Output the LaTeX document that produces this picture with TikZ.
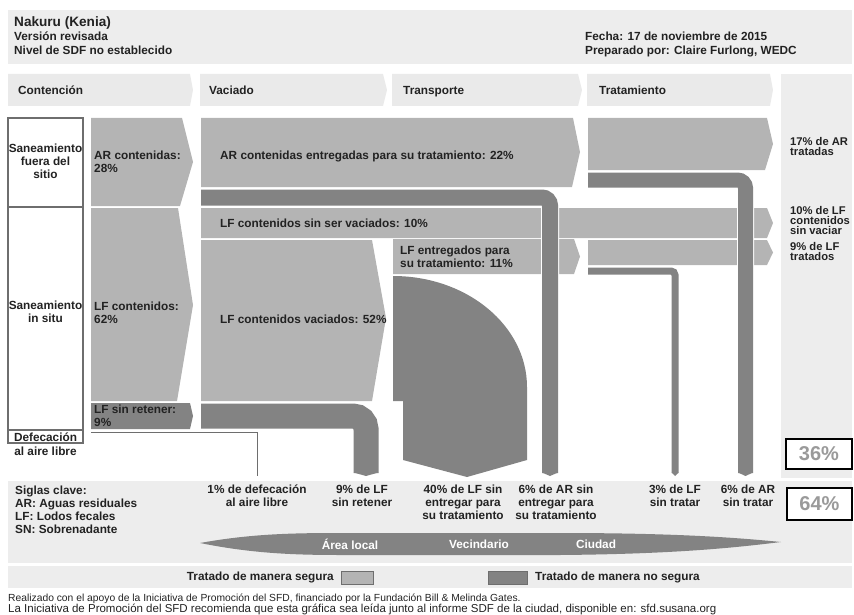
\documentclass[tikz,border=0pt]{standalone}
\usepackage{fontspec}
\setmainfont{Liberation Sans}
\definecolor{safegrey}{HTML}{B4B4B4}
\definecolor{unsafegrey}{HTML}{838383}
\definecolor{panelgrey}{HTML}{EDEDED}
\definecolor{hdrgrey}{HTML}{EAEAEA}
\definecolor{boxgrey}{HTML}{6E6E6E}
\definecolor{txtgrey}{HTML}{222222}
\definecolor{pctgrey}{HTML}{9A9A9A}
\tikzset{
    safe/.style={fill=safegrey},
    unsafe/.style={fill=unsafegrey},
    unsafe flow/.style={draw=white, line width=1pt, double=unsafegrey, double distance=#1},
    odline/.style={draw=boxgrey, line width=1pt},
    sysbox/.style={draw=boxgrey, line width=1.2pt},
    swatch/.style={draw=boxgrey, line width=0.8pt},
    txt/.style={font=\bfseries\fontsize{11.8}{12.8}\selectfont, text=txtgrey, inner sep=0pt, align=left},
    ctxt/.style={txt, align=center},
    rtxt/.style={txt, font=\bfseries\fontsize{11.2}{10}\selectfont},
    citytitle/.style={txt, font=\bfseries\fontsize{13.6}{15}\selectfont},
    lens/.style={txt, text=white},
    pct/.style={draw=black, line width=2pt, fill=white, text=pctgrey, font=\bfseries\fontsize{20}{24}\selectfont, inner sep=0pt},
    foot/.style={font=\fontsize{10.3}{10.8}\selectfont, text=txtgrey, inner sep=0pt, align=left},
}
\begin{document}
\begin{tikzpicture}[x=1pt, y=-1pt]
    \newcommand\posS{8}
    \newcommand\posC{91}
    \newcommand\posV{201}
    \newcommand\posT{393}
    \newcommand\posR{588}
    \newcommand\posE{781}

    \useasboundingbox (0,0) rectangle (854,615);

    % header
    \fill[panelgrey] (\posS,10) rectangle (852,64);
    \node[citytitle, anchor=base west] (city) at (14,26.5) {Nakuru (Kenia)};
    \node[txt, anchor=base west] (version) at (14,40.5) {Versión revisada};
    \node[txt, anchor=base west] (level) at (14,54.5) {Nivel de SDF no establecido};
    \node[txt, anchor=base west] (date) at (585,40.5) {Fecha: 17 de noviembre de 2015};
    \node[txt, anchor=base west] (author) at (585,54.5) {Preparado por: Claire Furlong, WEDC};

    % stages
    \fill[hdrgrey] (\posS,74) -- (190,74) -- (193,90) -- (190,106) -- (\posS,106) -- cycle;
    \fill[hdrgrey] (200,74) -- (383,74) -- (387,90) -- (383,106) -- (200,106) -- cycle;
    \fill[hdrgrey] (392,74) -- (578,74) -- (582,90) -- (578,106) -- (392,106) -- cycle;
    \fill[hdrgrey] (587,74) -- (770,74) -- (773,90) -- (770,106) -- (587,106) -- cycle;
    \fill[panelgrey] (\posE,74) rectangle (852,478);
    \node[txt, anchor=base west] (labC) at (18,94.5) {Contención};
    \node[txt, anchor=base west] (labV) at (209,94.5) {Vaciado};
    \node[txt, anchor=base west] (labT) at (403,94.5) {Transporte};
    \node[txt, anchor=base west] (labR) at (599,94.5) {Tratamiento};

    % systems
    \draw[sysbox] (\posS,118) rectangle (83,207);
    \draw[sysbox] (\posS,207) rectangle (83,430);
    \draw[sysbox] (\posS,430) rectangle (83,443);
    \node[ctxt] (offsite) at (45.5,161) {Saneamiento\\fuera del\\sitio};
    \node[ctxt] (onsite) at (45.5,312) {Saneamiento\\in situ};
    \node[ctxt] (od1) at (45.5,437) {Defecación};
    \node[ctxt] (od2) at (45.5,451) {al aire libre};

    % containment
    \fill[safe] (\posC,118) -- (182,118) -- (193,162) -- (180,206) -- (\posC,206) -- cycle;
    \fill[safe] (\posC,208) -- (178,208) -- (193,305) -- (177,401) -- (\posC,401) -- cycle;
    \fill[unsafe] (\posC,403) -- (190,403) -- (193,416) -- (190,429) -- (\posC,429) -- cycle;
    \draw[odline] (\posC,432) -- (257,432) -- (257,476);

    % emptying, transport, treatment
    \fill[safe] (\posV,118) -- (573,118) -- (580,152) -- (572,187) -- (\posV,187) -- cycle;
    \fill[safe] (\posV,208) -- (767,208) -- (773,223) -- (767,238) -- (\posV,238) -- cycle;
    \fill[safe] (\posV,240) -- (372,240) -- (386,318) -- (372,401) -- (\posV,401) -- cycle;
    \fill[safe] (\posT,239) -- (574,239) -- (580,256.5) -- (574,274) -- (\posT,274) -- cycle;
    \fill[unsafe] (\posT,276) arc[start angle=-90, end angle=0, x radius=134, y radius=111]
        -- (527,460) -- (467,477) -- (403,460) -- (403,401) -- (\posT,401) -- cycle;
    \fill[safe] (\posR,118) -- (767,118) -- (773,144) -- (765,170) -- (\posR,170) -- cycle;
    \fill[safe] (\posR,240) -- (767,240) -- (773,252.5) -- (767,265) -- (\posR,265) -- cycle;

    % unsafe bands
    \draw[unsafe flow=16pt, rounded corners=8pt] (\posV,197.5) -- (550,197.5) -- (550,473);
    \draw[unsafe flow=25pt, rounded corners=13pt] (\posV,416) -- (366,416) -- (366,473);
    \draw[unsafe flow=15pt, rounded corners=8pt] (\posR,180) -- (745.5,180) -- (745.5,473);
    \draw[unsafe flow=7pt, rounded corners=4pt] (\posR,271) -- (675,271) -- (675,473);
    \foreach \xm/\hw in {550/8, 366/12.5, 745.5/7.5, 675/3.5}
        \fill[unsafe] (\xm-\hw,472.5) -- (\xm,476) -- (\xm+\hw,472.5) -- cycle;

    % flow labels
    \node[txt, anchor=west] (arc) at (94,162) {AR contenidas:\\28\%};
    \node[txt, anchor=west] (lfc) at (94,313) {LF contenidos:\\62\%};
    \node[txt, anchor=west] (lfr) at (94,416) {LF sin retener:\\9\%};
    \node[txt, anchor=west] (ard) at (220,156) {AR contenidas entregadas para su tratamiento: 22\%};
    \node[txt, anchor=west] (lfn) at (220,223) {LF contenidos sin ser vaciados: 10\%};
    \node[txt, anchor=west] (lfe) at (220,319) {LF contenidos vaciados: 52\%};
    \node[txt, anchor=west] (lfd) at (400,257) {LF entregados para\\su tratamiento: 11\%};

    % outcomes
    \node[rtxt, anchor=west] (outar) at (790,146) {17\% de AR\\tratadas};
    \node[rtxt, anchor=west] (outlfn) at (790,220) {10\% de LF\\contenidos\\sin vaciar};
    \node[rtxt, anchor=west] (outlft) at (790,251) {9\% de LF\\tratados};
    \node[pct, minimum width=66pt, minimum height=30pt] (p36) at (819,454) {36\%};

    % bottom band
    \fill[panelgrey] (\posS,481) rectangle (852,563);
    \node[pct, minimum width=65pt, minimum height=32pt] (p64) at (819.5,504) {64\%};
    \node[txt, anchor=north west] (key) at (15,486) {Siglas clave:\\AR: Aguas residuales\\LF: Lodos fecales\\SN: Sobrenadante};
    \node[ctxt, anchor=north] (od) at (257,485) {1\% de defecación\\al aire libre};
    \node[ctxt, anchor=north] (nr) at (362,485) {9\% de LF\\sin retener};
    \node[ctxt, anchor=north] (lfnd) at (463,485) {40\% de LF sin\\entregar para\\su tratamiento};
    \node[ctxt, anchor=north] (arnd) at (556,485) {6\% de AR sin\\entregar para\\su tratamiento};
    \node[ctxt, anchor=north] (lfnt) at (675,485) {3\% de LF\\sin tratar};
    \node[ctxt, anchor=north] (arnt) at (748,485) {6\% de AR\\sin tratar};
    \fill[unsafe] (200,543) .. controls (250,534) and (290,533) .. (340,533) -- (560,533)
        .. controls (680,533) and (740,538) .. (781,542)
        .. controls (740,547) and (680,554) .. (560,555) -- (340,555)
        .. controls (290,555) and (250,553) .. (200,543) -- cycle;
    \node[lens] (local) at (350,544) {Área local};
    \node[lens] (nbr) at (479,544) {Vecindario};
    \node[lens] (cty) at (596,544) {Ciudad};

    % legend
    \fill[panelgrey] (\posS,566) rectangle (852,588);
    \node[txt, anchor=east] (legsafe) at (334,577) {Tratado de manera segura};
    \draw[swatch, fill=safegrey] (341,571) rectangle (373,584);
    \draw[swatch, fill=unsafegrey] (488,571) rectangle (527,584);
    \node[txt, anchor=west] (legunsafe) at (535,577) {Tratado de manera no segura};

    \node[foot, anchor=north west] (credit) at (\posS,594) {Realizado con el apoyo de la Iniciativa de Promoción del SFD, financiado por la Fundación Bill \& Melinda Gates.\\\fontsize{11.5}{10.8}\selectfont La Iniciativa de Promoción del SFD recomienda que esta gráfica sea leída junto al informe SDF de la ciudad, disponible en: sfd.susana.org};
\end{tikzpicture}
\end{document}
